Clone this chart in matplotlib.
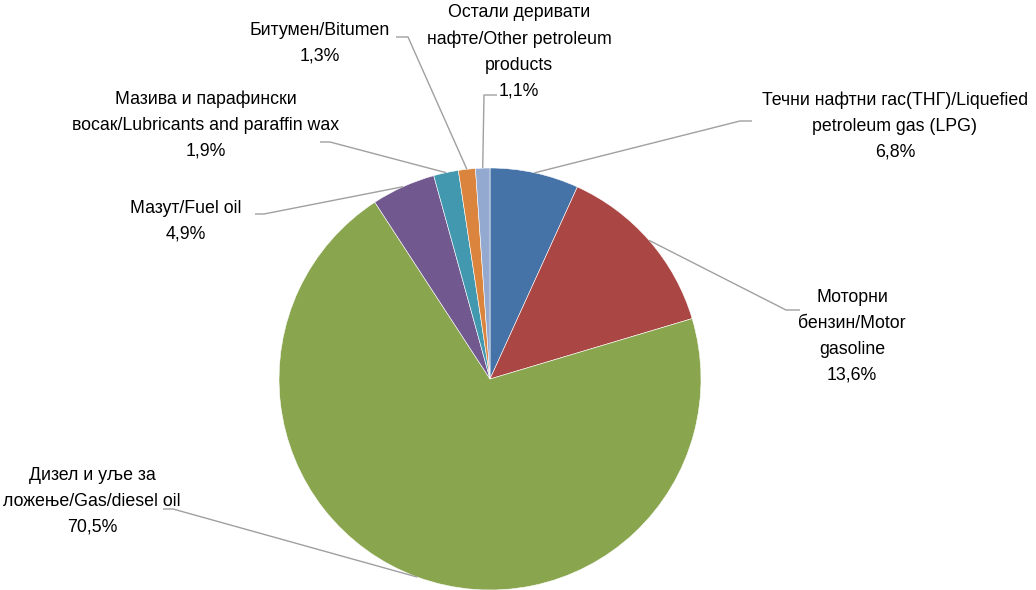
import numpy as np
import matplotlib
matplotlib.use("Agg")
import matplotlib.pyplot as plt
from matplotlib import font_manager

categories = [
    "Течни нафтни гас(ТНГ)/Liquefied\npetroleum gas (LPG)",
    "Моторни\nбензин/Motor\ngasoline",
    "Дизел и уље за\nложење/Gas/diesel oil",
    "Мазут/Fuel oil",
    "Мазива и парафински\nвосак/Lubricants and paraffin wax",
    "Битумен/Bitumen",
    "Остали деривати\nнафте/Other petroleum\nproducts",
]
values = [6.8, 13.6, 70.5, 4.9, 1.9, 1.3, 1.1]
value_labels = ["6,8%", "13,6%", "70,5%", "4,9%", "1,9%", "1,3%", "1,1%"]
colors = ["#4572A7", "#AA4643", "#89A54E", "#71588F", "#4198AF", "#DB843D", "#93A9CF"]

W, H = 1036, 590
names = {f.name for f in font_manager.fontManager.ttflist}
if 'Liberation Sans Narrow' in names:
    plt.rcParams['font.family'] = ['Liberation Sans Narrow', 'DejaVu Sans']
    FS = 14.5
else:
    plt.rcParams['font.family'] = ['Liberation Sans', 'DejaVu Sans']
    FS = 12.8

fig = plt.figure(figsize=(W / 100, H / 100), dpi=100)
ax = fig.add_axes([0, 0, 1, 1])

cx, cy, r = 490, H - 379, 211
wedges, _ = ax.pie(values, colors=colors, startangle=90, counterclock=False,
                   center=(cx, cy), radius=r, frame=True,
                   wedgeprops=dict(edgecolor='white', linewidth=0.4))
ax.set_xlim(0, W)
ax.set_ylim(0, H)
ax.set_aspect('equal')
ax.axis('off')

# layout (pixel coords from top): label block center, knee point, end of horizontal
label_pos = [(895, 126), (852, 336.5), (92, 501), (186, 221), (206, 125), (320, 43.5), (519, 52)]
knees = [((740, 121), (752, 121)), ((786, 310), (800, 310)), ((173, 509), (163, 509)),
         ((264, 214), (255, 214)), ((330, 142), (320, 142)), ((408, 37), (396, 37)),
         ((484, 95), (497, 95))]

for w, txt, vl, (lx, ly), (k, e) in zip(wedges, categories, value_labels, label_pos, knees):
    ang = np.deg2rad((w.theta1 + w.theta2) / 2)
    sx, sy = cx + r * np.cos(ang), cy + r * np.sin(ang)
    ax.plot([sx, k[0], e[0]], [sy, H - k[1], H - e[1]], color='#A0A0A0', lw=1.0,
            solid_capstyle='butt', zorder=1)
    ax.text(lx, H - ly, txt + "\n" + vl, ha='center', va='center', fontsize=FS,
            linespacing=1.68, color='#000000', multialignment='center')

fig.savefig("out.png", dpi=100)
